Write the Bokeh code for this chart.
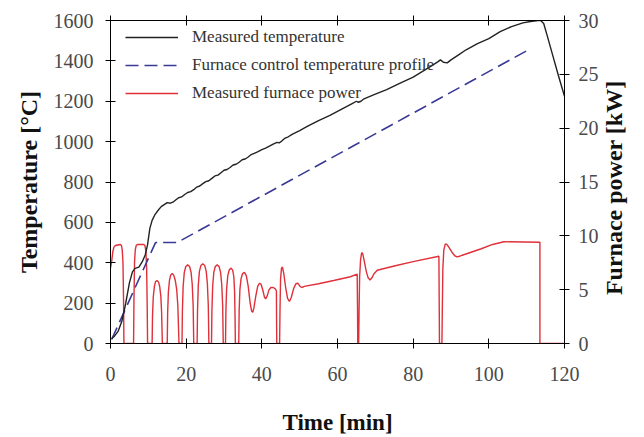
import math
from bokeh.plotting import figure
from bokeh.models import Range1d, LinearAxis, Legend, LegendItem, CustomJSTickFormatter, FixedTicker
from bokeh.embed import file_html
from bokeh.resources import INLINE

# ---- data ----
time_measured = [0.3, 1, 2, 3, 4, 5, 5.8, 6.5, 7.5, 8.4, 9.2, 9.8, 10.4, 11, 11.8, 12.6, 13.4,
                 14.2, 15, 15.8, 16.5, 17.3, 18, 18.8, 19.6, 20.4, 21.2, 22, 22.8, 23.6, 24.4,
                 25.2, 26, 26.8, 27.6, 28.4, 29.2, 30, 30.8, 31.6, 32.4, 33.2, 34, 34.8, 35.6,
                 36.4, 37.2, 38, 39, 40, 41, 42, 43, 44, 44.6, 45.2, 46, 47, 48, 50, 52, 55,
                 58, 61, 64, 65, 65.5, 66.2, 67, 70, 73, 76, 80, 84, 86.5, 87.2, 88, 89, 90,
                 92, 94, 97, 100, 103, 106, 109, 111, 113, 113.7, 114.5, 115.5, 117, 118.5, 120]
temp_measured = [25, 35, 60, 110, 197, 300, 355, 372, 378, 405, 440, 490, 570, 610, 640, 660, 678,
                 688, 698, 695, 700, 712, 722, 726, 738, 748, 752, 762, 775, 780, 792,
                 802, 806, 818, 830, 834, 846, 858, 862, 872, 884, 888, 898, 910, 914,
                 924, 936, 942, 950, 960, 968, 978, 988, 996, 994, 1002, 1016, 1024, 1036, 1055, 1075, 1104,
                 1130, 1160, 1190, 1200, 1195, 1200, 1212, 1235, 1258, 1285, 1320, 1365, 1395, 1405, 1393, 1390, 1405,
                 1430, 1455, 1485, 1510, 1545, 1570, 1588, 1595, 1600, 1600, 1585, 1520, 1420, 1320, 1225]

time_profile = [0.3, 11.9, 17.6, 110.0]
temp_profile = [20, 500, 500, 1450]

time_power = [0, 0.3, 0.6, 0.9, 1.3, 2.6, 2.9, 3.1, 3.3, 3.45, 3.55,
              6.1, 6.2, 6.35, 6.55, 6.8, 7.1, 8.8, 9.1, 9.35, 9.55, 9.7, 9.8,
              11.0, 11.1, 11.3, 11.6, 11.9, 12.3, 12.7, 13.0, 13.3, 13.5, 13.65, 13.7,
              15.0, 15.1, 15.3, 15.6, 15.9, 16.3, 16.7, 17.1, 17.5, 17.8, 18.0, 18.1,
              18.9, 19.0, 19.2, 19.5, 19.9, 20.4, 20.9, 21.3, 21.6, 21.85, 21.95, 22.0,
              22.9, 23.0, 23.2, 23.5, 23.9, 24.4, 24.9, 25.3, 25.6, 25.85, 25.95, 26.0,
              26.7, 26.8, 27.0, 27.3, 27.7, 28.2, 28.7, 29.1, 29.4, 29.65, 29.75, 29.8,
              30.4, 30.5, 30.7, 31.0, 31.4, 31.9, 32.3, 32.6, 32.8, 32.92, 33.0,
              33.9, 34.0, 34.2, 34.5, 34.9, 35.4, 35.9, 36.4, 36.9, 37.3, 37.6, 37.9, 38.4,
              38.9, 39.4, 39.8, 40.3, 40.7, 41.0, 41.4, 41.9, 42.4, 43.0, 43.5, 43.85, 43.9, 43.95,
              44.7, 44.8, 44.95, 45.2, 45.45, 45.8, 46.3, 46.8, 47.3, 47.8, 48.4, 49.0, 49.5,
              50.1, 50.6, 51.2, 55, 59, 63.4, 65.2, 65.3, 65.35,
              65.6, 65.7, 65.85, 66.1, 66.4, 66.7, 67.1, 67.6, 68.1, 68.6, 69.1, 69.6, 70.5,
              75, 80, 86.8, 86.9, 86.95,
              87.6, 87.7, 87.85, 88.1, 88.5, 88.9, 89.5, 90.2, 91.0, 91.6, 92.2, 93.0, 98,
              101, 104, 113.5, 113.5, 120]
power = [7.0, 7.6, 8.5, 8.95, 9.1, 9.2, 9.1, 8.7, 7.5, 4, 0,
         0, 4, 7.5, 8.7, 9.1, 9.2, 9.2, 9.1, 8.6, 7, 3.5, 0,
         0, 2.5, 4.3, 5.3, 5.75, 5.85, 5.7, 5.3, 4.4, 3.0, 0.8, 0,
         0, 2.8, 4.8, 5.9, 6.35, 6.5, 6.35, 5.9, 5.0, 3.5, 1.2, 0,
         0, 3, 5.3, 6.6, 7.15, 7.3, 7.15, 6.6, 5.5, 3.5, 1.2, 0,
         0, 3, 5.4, 6.7, 7.25, 7.4, 7.25, 6.7, 5.6, 3.5, 1.2, 0,
         0, 3, 5.3, 6.6, 7.15, 7.3, 7.15, 6.6, 5.5, 3.5, 1.2, 0,
         0, 3, 5.1, 6.3, 6.85, 7.0, 6.8, 6.2, 4.8, 2.5, 0,
         0, 3, 5.0, 6.0, 6.5, 6.6, 6.3, 5.3, 3.8, 3.0, 2.9, 3.3, 4.4,
         5.3, 5.6, 5.5, 4.9, 4.3, 4.15, 4.4, 5.0, 5.2, 5.2, 5.1, 4.9, 2, 0,
         0, 3, 6, 7.0, 7.1, 6.5, 5.2, 4.2, 3.9, 4.3, 5.1, 5.55, 5.6,
         5.3, 5.2, 5.3, 5.55, 5.85, 6.2, 6.45, 3, 0,
         0, 3, 6.2, 7.8, 8.45, 8.3, 7.6, 6.7, 6.1, 5.9, 6.1, 6.45, 6.8,
         7.2, 7.6, 8.1, 3, 0,
         0, 3, 7, 8.7, 9.25, 9.2, 8.9, 8.5, 8.15, 8.05, 8.1, 8.2, 8.8,
         9.2, 9.45, 9.4, 0, 0]

x_ticks = [0, 20, 40, 60, 80, 100, 120]
temp_ticks = [0, 200, 400, 600, 800, 1000, 1200, 1400, 1600]
power_ticks = [0, 5, 10, 15, 20, 25, 30]

labels = ["Measured temperature", "Furnace control temperature profile", "Measured furnace power"]
x_title = "Time [min]"
temp_title = "Temperature [°C]"
power_title = "Furnace power [kW]"

SERIF = "Liberation Serif"

p = figure(width=644, height=437, output_backend="svg", toolbar_location=None,
           x_range=Range1d(0, 120), y_range=Range1d(0, 1600),
           min_border_left=110, min_border_right=80, min_border_top=20, min_border_bottom=94,
           background_fill_color="white", border_fill_color="white")
p.extra_y_ranges = {"power": Range1d(0, 30)}
p.xgrid.visible = False
p.ygrid.visible = False
p.outline_line_color = "black"


def style_axis(ax, tick_size="20px"):
    ax.axis_line_color = "black"
    ax.axis_line_width = 1
    ax.major_tick_line_color = "black"
    ax.major_tick_in = 5
    ax.major_tick_out = 5
    ax.minor_tick_line_color = None
    ax.major_label_text_font = SERIF
    ax.major_label_text_font_size = tick_size
    ax.major_label_text_color = "#4a4a4a"
    ax.axis_label_text_font = SERIF
    ax.axis_label_text_font_style = "bold"
    ax.axis_label_text_font_size = "23px"
    ax.axis_label_text_color = "#111111"


xa = p.xaxis[0]
xa.ticker = x_ticks
style_axis(xa)
xa.axis_label = x_title
xa.major_label_standoff = 18
xa.axis_label_standoff = 26

ya = p.yaxis[0]
ya.ticker = temp_ticks
style_axis(ya)
ya.axis_label = temp_title
ya.axis_label_text_font_size = "24px"
ya.major_label_standoff = 12
ya.axis_label_standoff = 9

ra = LinearAxis(y_range_name="power", ticker=power_ticks)
style_axis(ra)
ra.major_label_standoff = 9
p.add_layout(ra, "right")

# right-hand title: an unlined axis whose single rotated label reads bottom to top
title_axis = LinearAxis(y_range_name="power", ticker=FixedTicker(ticks=[4.5]),
                        formatter=CustomJSTickFormatter(code="return '%s'" % power_title))
title_axis.axis_line_color = None
title_axis.major_tick_line_color = None
title_axis.minor_tick_line_color = None
title_axis.major_tick_in = 0
title_axis.major_tick_out = 0
title_axis.major_label_orientation = math.pi / 2
title_axis.major_label_standoff = 13
title_axis.major_label_text_font = SERIF
title_axis.major_label_text_font_style = "bold"
title_axis.major_label_text_font_size = "24px"
title_axis.major_label_text_color = "#111111"
p.add_layout(title_axis, "right")

ta = LinearAxis(ticker=x_ticks, formatter=CustomJSTickFormatter(code="return ''"))
style_axis(ta)
ta.major_label_standoff = 0
ta.major_label_text_font_size = "1px"
p.add_layout(ta, "above")

r_power = p.line(time_power, power, y_range_name="power", line_color="#e0303a", line_width=1.4)
r_profile = p.line(time_profile, temp_profile, line_color="#3a3a96", line_width=1.6, line_dash="13 6")
r_meas = p.line(time_measured, temp_measured, line_color="#222222", line_width=1.4)

legend = Legend(items=[LegendItem(label=labels[0], renderers=[r_meas]),
                       LegendItem(label=labels[1], renderers=[r_profile]),
                       LegendItem(label=labels[2], renderers=[r_power])],
                location=(15, 240), margin=0, padding=7, spacing=8,
                glyph_width=53, glyph_height=20, label_height=20, label_standoff=14,
                border_line_color=None, background_fill_alpha=0,
                label_text_font=SERIF, label_text_font_size="17px", label_text_color="#333333")
p.add_layout(legend, "center")

open("out.html", "w").write(file_html(p, INLINE))
